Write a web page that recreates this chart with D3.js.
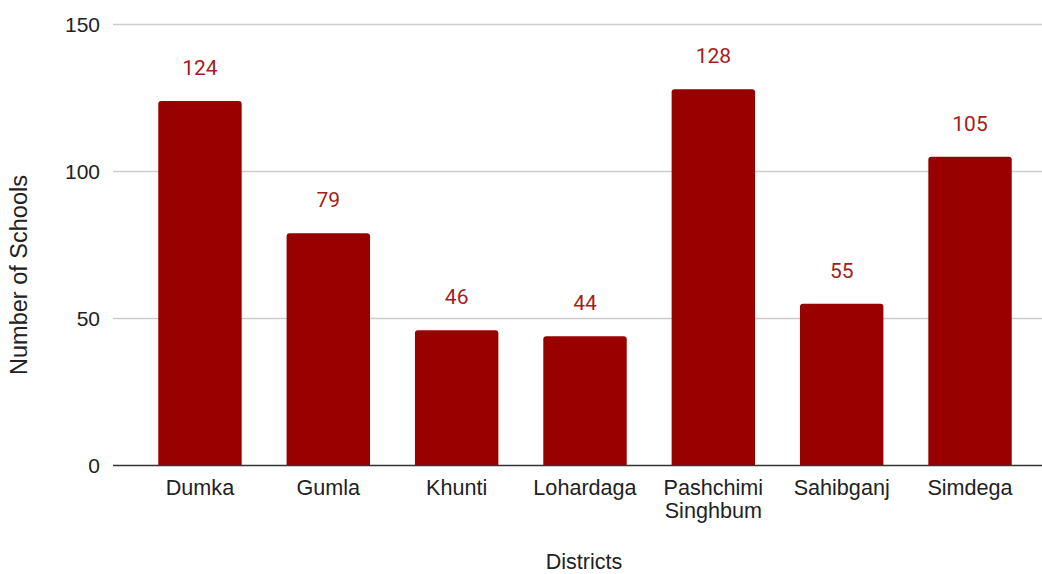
<!DOCTYPE html>
<html>
<head>
<meta charset="utf-8">
<script src="https://cdn.jsdelivr.net/npm/d3@7"></script>
<style>
  html, body { margin: 0; padding: 0; background: #fff; }
  svg { display: block; }
</style>
</head>
<body>
<svg id="chart" width="1042" height="574"></svg>
<script>
// Number of schools per district
const districts = ["Dumka", "Gumla", "Khunti", "Lohardaga", "Pashchimi Singhbum", "Sahibganj", "Simdega"];
const schools = [124, 79, 46, 44, 128, 55, 105];
const yTicks = [0, 50, 100, 150];

const W = 1042, H = 574;
const gridLeft = 113, gridRight = 1042;
const svg = d3.select("#chart");

const x = d3.scaleBand()
  .domain(districts)
  .range([135.8, 1034.2])
  .paddingInner(0.35)
  .paddingOuter(0.175);

const y = d3.scaleLinear()
  .domain([0, 150])
  .range([465.5, 24.5]);

const axisFont = "'Liberation Sans', Arial, sans-serif";
const labelFont = "Roboto, 'Liberation Sans', sans-serif";

// horizontal gridlines
svg.append("g")
  .selectAll("line")
  .data(yTicks.filter(d => d !== 0))
  .join("line")
  .attr("x1", gridLeft)
  .attr("x2", gridRight)
  .attr("y1", d => y(d))
  .attr("y2", d => y(d))
  .attr("stroke", "#cccccc")
  .attr("stroke-width", 1.3);

// y tick labels
svg.append("g")
  .selectAll("text")
  .data(yTicks)
  .join("text")
  .attr("x", 100)
  .attr("y", d => y(d))
  .attr("dy", "0.35em")
  .attr("text-anchor", "end")
  .attr("font-family", axisFont)
  .attr("font-size", 21)
  .attr("fill", "#222")
  .text(d => d);

// bars with slightly rounded tops
const r = 3;
svg.append("g")
  .selectAll("path")
  .data(districts.map((d, i) => ({ d, v: schools[i] })))
  .join("path")
  .attr("fill", "#990000")
  .attr("d", o => {
    const x0 = x(o.d), x1 = x0 + x.bandwidth();
    const yt = y(o.v), yb = y(0);
    return `M${x0},${yb}V${yt + r}Q${x0},${yt} ${x0 + r},${yt}H${x1 - r}Q${x1},${yt} ${x1},${yt + r}V${yb}Z`;
  });

// value labels
svg.append("g")
  .selectAll("text")
  .data(districts.map((d, i) => ({ d, v: schools[i] })))
  .join("text")
  .attr("x", o => x(o.d) + x.bandwidth() / 2)
  .attr("y", o => y(o.v) - 26)
  .attr("text-anchor", "middle")
  .attr("font-family", labelFont)
  .attr("font-size", 21)
  .attr("fill", "#a61c1c")
  .text(o => o.v);

// baseline
svg.append("line")
  .attr("x1", gridLeft)
  .attr("x2", gridRight)
  .attr("y1", y(0))
  .attr("y2", y(0))
  .attr("stroke", "#333")
  .attr("stroke-width", 1.6);

// x tick labels (wrapped on spaces for long names)
const xl = svg.append("g")
  .selectAll("text")
  .data(districts)
  .join("text")
  .attr("x", d => x(d) + x.bandwidth() / 2)
  .attr("y", 495)
  .attr("text-anchor", "middle")
  .attr("font-family", axisFont)
  .attr("font-size", 21.6)
  .attr("fill", "#222");
xl.each(function(d) {
  const words = d.split(" ");
  const t = d3.select(this);
  words.forEach((w, i) => {
    t.append("tspan")
      .attr("x", x(d) + x.bandwidth() / 2)
      .attr("dy", i === 0 ? 0 : 22.5)
      .text(w);
  });
});

// axis titles
svg.append("text")
  .attr("x", 584)
  .attr("y", 569)
  .attr("text-anchor", "middle")
  .attr("font-family", axisFont)
  .attr("font-size", 21.5)
  .attr("fill", "#222")
  .text("Districts");

svg.append("text")
  .attr("transform", "translate(27,275) rotate(-90)")
  .attr("text-anchor", "middle")
  .attr("font-family", axisFont)
  .attr("font-size", 23.5)
  .attr("fill", "#222")
  .text("Number of Schools");
</script>
</body>
</html>
